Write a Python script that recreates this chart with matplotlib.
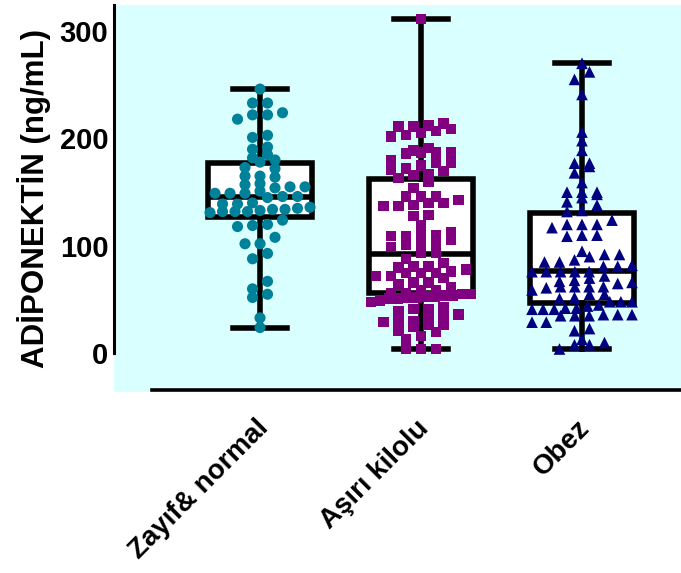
import numpy as np
import matplotlib
matplotlib.use('Agg')
import matplotlib.pyplot as plt
from matplotlib.transforms import ScaledTranslation

plt.rcParams['font.family'] = ['Liberation Sans', 'DejaVu Sans']
plt.rcParams['font.weight'] = 'bold'

GROUPS = ["Zayıf& normal", "Aşırı kilolu", "Obez"]

zayif = [246, 233, 233, 224, 222, 222, 218, 203, 201, 192, 190, 185, 182,
         180, 178, 173, 172, 165, 165, 164, 158, 157, 155, 154, 155, 151,
         149, 149, 149, 146, 145, 146, 140, 139, 139, 135, 134, 136, 133,
         134, 132, 132, 131, 132, 124, 120, 119, 118, 108, 102, 102, 93,
         88, 67, 60, 55, 52, 33, 24]

asiri = [311,
         211, 203, 211, 212, 205, 209, 202, 214, 207,
         186, 177, 187, 191, 172, 166, 187, 180, 170, 189, 175, 167, 187,
         177, 171, 163, 160,
         146, 137, 143, 154, 146, 138, 140, 146, 137, 140, 129, 128,
         119, 109, 101, 94, 109, 99, 109, 101, 94, 110, 103, 113, 106,
         84, 76, 78, 75, 81, 88, 81, 75, 80, 72, 72, 70, 75,
         66, 62, 59, 64, 66, 59,
         56, 55, 54, 53, 52, 51, 55, 53, 52, 54, 51, 56,
         49, 48, 41, 43, 41, 36, 29, 30, 35, 33, 27, 39, 30, 27, 20, 21,
         13, 25, 16, 4, 4, 4]

obez = [270, 262, 255, 241, 206, 198, 189, 174, 177, 177, 168, 159, 150,
        148, 150, 145, 150, 141, 138, 133, 132,
        124, 117, 109, 120, 120, 110, 120, 110,
        85, 92, 81, 90, 82, 92, 81, 95, 85, 87,
        76, 76, 76, 76, 76,
        70, 62, 72, 67, 62, 59, 68, 62, 65, 62, 52, 61, 55, 66, 55,
        51, 48, 48, 42, 48, 44, 41, 41, 45, 41, 42,
        35, 36, 35, 36, 35, 36, 29, 29, 23, 21, 13, 10, 8, 8, 4]

# min, q1, median, q3, max per group
box_min = [24, 4, 4]
box_q1 = [127, 56, 47]
box_med = [145.5, 92.5, 76.5]
box_q3 = [177, 162, 130.5]
box_max = [246, 311, 270]

COLORS = ["#00819A", "#800080", "#000080"]
MARKERS = ["o", "s", "^"]
SIZES = [64, 56, 70]
BG = "#D9FFFF"


def row_offsets(values, ax, row_px=8.0, step_px=15.0, max_px=100.0):
    """Scatter-dot layout: close values share a row, rows are centred."""
    p0 = ax.transData.transform((0, 0))
    p1 = ax.transData.transform((1, 1))
    sx, sy = p1[0] - p0[0], p1[1] - p0[1]
    vals = np.asarray(values, dtype=float)
    order = np.argsort(vals)
    offs = np.zeros(len(vals))
    rows, cur = [], [order[0]]
    for i in order[1:]:
        if (vals[i] - vals[cur[0]]) * sy < row_px:
            cur.append(i)
        else:
            rows.append(cur)
            cur = [i]
    rows.append(cur)
    for row in rows:
        n = len(row)
        if n == 1:
            continue
        step = min(step_px, max_px / (n - 1))
        for k, i in enumerate(row):
            offs[i] = (k - (n - 1) / 2) * step / sx
    return offs


fig = plt.figure(figsize=(6.81, 5.73), dpi=100)
ax = fig.add_axes([0.1674, 0.3159, 0.8326, 0.6754])
ax.set_facecolor(BG)
ax.set_xlim(0.093, 3.615)
ax.set_ylim(-36, 324.3)

stats = []
for i in range(3):
    stats.append(dict(whislo=box_min[i], q1=box_q1[i], med=box_med[i],
                      q3=box_q3[i], whishi=box_max[i], fliers=[]))
lw = 4
ax.bxp(stats, positions=[1, 2, 3], widths=0.65, capwidths=0.33,
       patch_artist=True, showfliers=False,
       boxprops=dict(facecolor="white", edgecolor="black", linewidth=lw),
       medianprops=dict(color="black", linewidth=lw),
       whiskerprops=dict(color="black", linewidth=lw),
       capprops=dict(color="black", linewidth=lw), zorder=2)

for i, vals in enumerate([zayif, asiri, obez]):
    offs = row_offsets(vals, ax)
    ax.scatter(i + 1 + offs, vals, s=SIZES[i], marker=MARKERS[i],
               color=COLORS[i], edgecolors="none", zorder=3)

for side in ("top", "right"):
    ax.spines[side].set_visible(False)
ax.spines["left"].set_linewidth(2.2)
ax.spines["left"].set_bounds(0, 324.3)
ax.spines["bottom"].set_linewidth(2.6)
ax.spines["bottom"].set_position(("data", -34.2))
ax.spines["bottom"].set_bounds(0.329, 3.615)

ax.set_yticks([0, 100, 200, 300])
ax.set_xticks([1, 2, 3])
ax.set_xticklabels(GROUPS)
ax.tick_params(axis="y", length=0, labelsize=21, pad=4)
ax.tick_params(axis="x", length=0, labelsize=20, pad=18)
shift = ScaledTranslation(-5 / 100, 0, fig.dpi_scale_trans)
for lab in ax.get_xticklabels():
    lab.set_rotation(45)
    lab.set_ha("right")
    lab.set_va("top")
    lab.set_rotation_mode("anchor")
    lab.set_transform(lab.get_transform() + shift)

ax.set_ylabel("ADİPONEKTİN (ng/mL)", fontsize=22.5, fontweight="bold", labelpad=6)

fig.savefig("out.png", dpi=100)
